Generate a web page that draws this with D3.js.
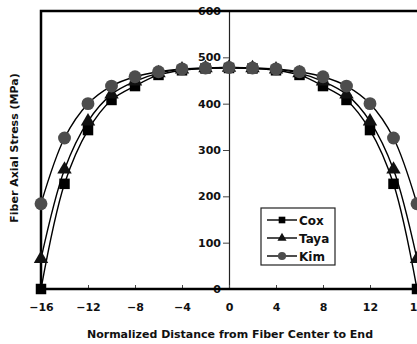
<!DOCTYPE html>
<html>
<head>
<meta charset="utf-8">
<script src="https://cdn.jsdelivr.net/npm/d3@7"></script>
<style>
  body { margin: 0; background: #fff; }
  text { font-family: "DejaVu Sans", Arial, sans-serif; font-weight: bold; fill: #111; }
</style>
</head>
<body>
<div id="chart"></div>
<script>
// Fiber axial stress along normalized distance
var distance = [-16, -14, -12, -10, -8, -6, -4, -2, 0, 2, 4, 6, 8, 10, 12, 14, 16];
var coxStress  = [0, 227, 343, 408, 438, 462, 472, 476, 477, 476, 472, 462, 438, 408, 343, 227, 0];
var tayaStress = [65, 258, 362, 420, 448, 466, 474, 477, 478, 477, 474, 466, 448, 420, 362, 258, 65];
var kimStress  = [184, 326, 400, 438, 458, 469, 475, 477, 478, 477, 475, 469, 458, 438, 400, 326, 184];
var xTicks = [-16, -12, -8, -4, 0, 4, 8, 12, 16];
var yTicks = [0, 100, 200, 300, 400, 500, 600];
var seriesNames = ['Cox', 'Taya', 'Kim'];

var width = 417, height = 344;
var margin = { left: 41, top: 11, bottom: 55 };
var chartHeight = height - margin.top - margin.bottom;

var xScale = d3.scaleLinear().domain([-16, 16]).range([margin.left, margin.left + 376]);
var yScale = d3.scaleLinear().domain([0, 600]).range([margin.top + chartHeight, margin.top]);

var svg = d3.select('#chart').append('svg')
    .attr('width', width)
    .attr('height', height);

var series = [
  { name: 'Cox', values: coxStress, shape: d3.symbolSquare, size: 110, fill: '#000' },
  { name: 'Taya', values: tayaStress, shape: d3.symbolTriangle, size: 90, fill: '#111' },
  { name: 'Kim', values: kimStress, shape: d3.symbolCircle, size: 130, fill: '#4d4d4d' }
];

// center vertical axis (x = 0)
var yAxis = d3.axisLeft(yScale).tickValues(yTicks).tickSize(6).tickPadding(2);
var yAxisG = svg.append('g')
    .attr('transform', 'translate(' + xScale(0) + ',0)')
    .call(yAxis);
yAxisG.select('.domain').attr('stroke', '#222').attr('stroke-width', 1.2);
yAxisG.selectAll('.tick line').attr('stroke', '#444');
yAxisG.selectAll('.tick text').style('font-size', '11px').attr('fill', '#111');

// bottom axis with inward ticks
var xAxis = d3.axisBottom(xScale).tickValues(xTicks).tickSize(-4).tickPadding(14)
    .tickFormat(d3.format('d'));
var xAxisG = svg.append('g')
    .attr('transform', 'translate(0,' + yScale(0) + ')')
    .call(xAxis);
xAxisG.select('.domain').remove();
xAxisG.selectAll('.tick line').attr('stroke', '#444');
xAxisG.selectAll('.tick text').style('font-size', '11px').attr('fill', '#111');

// frame
svg.append('path')
    .attr('d', 'M' + (xScale(16) + 1) + ',' + yScale(600) + 'H' + xScale(-16) + 'V' + yScale(0) + 'H' + (xScale(16) + 1))
    .attr('fill', 'none')
    .attr('stroke', '#000')
    .attr('stroke-width', 2.5);

// lines
var line = d3.line()
    .x(function(d, i) { return xScale(distance[i]); })
    .y(function(d) { return yScale(d); })
    .curve(d3.curveCatmullRom.alpha(0.5));

series.forEach(function(s) {
  svg.append('path')
      .datum(s.values)
      .attr('d', line)
      .attr('fill', 'none')
      .attr('stroke', '#000')
      .attr('stroke-width', 1.4);
});

// markers
series.forEach(function(s) {
  svg.append('g').selectAll('path')
      .data(s.values)
      .enter().append('path')
      .attr('transform', function(d, i) { return 'translate(' + xScale(distance[i]) + ',' + yScale(d) + ')'; })
      .attr('d', d3.symbol().type(s.shape).size(s.size))
      .attr('fill', s.fill);
});

// legend
var legend = svg.append('g').attr('transform', 'translate(261,208)');
legend.append('rect')
    .attr('width', 74).attr('height', 57)
    .attr('fill', '#fff').attr('stroke', '#222').attr('stroke-width', 1.2);
series.forEach(function(s, i) {
  var g = legend.append('g').attr('transform', 'translate(0,' + (12 + i * 18) + ')');
  g.append('line').attr('x1', 6).attr('x2', 36).attr('stroke', '#000').attr('stroke-width', 1.4);
  g.append('path')
      .attr('transform', 'translate(21,0)')
      .attr('d', d3.symbol().type(s.shape).size(s.size * 0.4))
      .attr('fill', s.fill);
  g.append('text').attr('x', 38).attr('y', 4.5).style('font-size', '12px').text(seriesNames[i]);
});

// titles
svg.append('text')
    .attr('x', 230).attr('y', 338)
    .attr('text-anchor', 'middle')
    .style('font-size', '11px')
    .text('Normalized Distance from Fiber Center to End');

svg.append('text')
    .attr('transform', 'translate(18,' + 148 + ') rotate(-90)')
    .attr('text-anchor', 'middle')
    .style('font-size', '11px')
    .text('Fiber Axial Stress (MPa)');
</script>
</body>
</html>
